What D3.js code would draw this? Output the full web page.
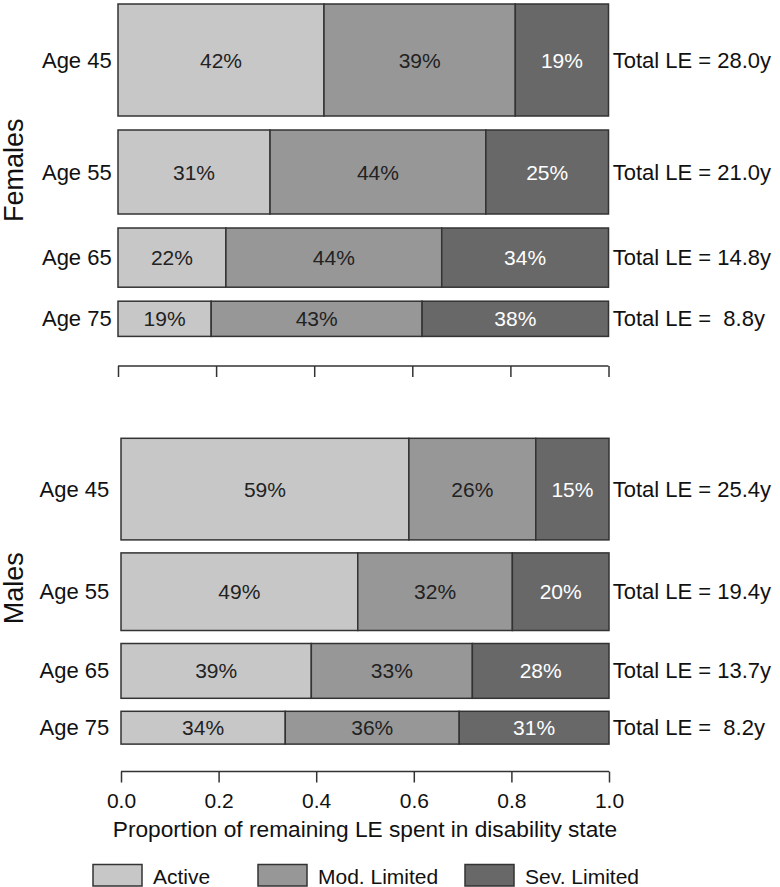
<!DOCTYPE html>
<html><head><meta charset="utf-8">
<script src="https://cdn.jsdelivr.net/npm/d3@7"></script>
<style>
html,body{margin:0;padding:0;background:#fff;}
svg text{font-family:"Liberation Sans",Arial,Helvetica,sans-serif;white-space:pre;}
</style></head>
<body>
<svg id="chart" width="780" height="887"></svg>
<script>
const ages = ["Age 45","Age 55","Age 65","Age 75"];
const states = ["Active","Mod. Limited","Sev. Limited"];
const femaleActive = [42,31,22,19];
const femaleMod    = [39,44,44,43];
const femaleSev    = [19,25,34,38];
const femaleTotal  = [28.0,21.0,14.8,8.8];
const maleActive = [59,49,39,34];
const maleMod    = [26,32,33,36];
const maleSev    = [15,20,28,31];
const maleTotal  = [25.4,19.4,13.7,8.2];
const tickValues = [0,0.2,0.4,0.6,0.8,1.0];
const colors = ["#c7c7c7","#979797","#686868"];
const textColors = ["#222","#222","#fff"];

const svg = d3.select("#chart");

const panels = [
  {name:"Females", act:femaleActive, mod:femaleMod, sev:femaleSev, tot:femaleTotal,
   x0:118, x1:608.5, top:4, gap:14, labelRight:111.7, axisY:366, tickLabels:false, labelShift:0},
  {name:"Males", act:maleActive, mod:maleMod, sev:maleSev, tot:maleTotal,
   x0:121, x1:609, top:438.3, gap:13, labelRight:109.3, axisY:771.5, tickLabels:true, labelShift:-3}
];

panels.forEach(p => {
  const rows = ages.map((a,i) => {
    const s = p.act[i]+p.mod[i]+p.sev[i];
    return {age:a, total:p.tot[i], Active:p.act[i]/s, "Mod. Limited":p.mod[i]/s, "Sev. Limited":p.sev[i]/s,
            raw:[p.act[i],p.mod[i],p.sev[i]]};
  });
  const x = d3.scaleLinear().domain([0,1]).range([p.x0,p.x1]);
  const h = d3.scaleLinear().domain([0,1]).range([0,4.0]); // px per year
  let cum = p.top;
  rows.forEach((r,i) => { r.y = cum; r.h = h(r.total); cum += r.h + p.gap; });
  const bottom = rows[rows.length-1].y + rows[rows.length-1].h;

  const stack = d3.stack().keys(states)(rows);
  const g = svg.append("g");
  stack.forEach((layer,k) => {
    g.selectAll(null).data(layer).enter().append("rect")
      .attr("x", d => x(d[0])).attr("width", d => x(d[1]) - x(d[0]))
      .attr("y", d => d.data.y).attr("height", d => d.data.h)
      .attr("fill", colors[k]).attr("stroke","#333").attr("stroke-width",1.5);
    g.selectAll(null).data(layer).enter().append("text")
      .attr("x", d => (x(d[0]) + x(d[1]))/2)
      .attr("y", d => d.data.y + d.data.h/2)
      .attr("text-anchor","middle").attr("dominant-baseline","central")
      .attr("font-size",21).attr("fill",textColors[k])
      .text(d => d.data.raw[k] + "%");
  });
  // age labels
  g.selectAll(null).data(rows).enter().append("text")
    .attr("x", p.labelRight).attr("y", d => d.y + d.h/2)
    .attr("text-anchor","end").attr("dominant-baseline","central")
    .attr("font-size",22).attr("fill","#111").text(d => d.age);
  // totals
  const fmt = d3.format("4.1f");
  g.selectAll(null).data(rows).enter().append("text")
    .attr("x", 612.7).attr("y", d => d.y + d.h/2)
    .attr("dominant-baseline","central")
    .attr("font-size",22).attr("fill","#111")
    .text(d => "Total LE = " + fmt(d.total) + "y");
  // panel label
  svg.append("text")
    .attr("transform", `translate(23,${(p.top+bottom)/2 + p.labelShift}) rotate(-90)`)
    .attr("text-anchor","middle").attr("font-size",27).attr("fill","#111")
    .text(p.name);
  // axis
  const axis = d3.axisBottom(x).tickValues(tickValues).tickSize(11).tickPadding(11)
    .tickFormat(p.tickLabels ? d3.format(".1f") : () => "");
  const ag = svg.append("g").attr("transform",`translate(0,${p.axisY})`).call(axis);
  ag.select(".domain").attr("stroke","#333").attr("stroke-width",1.5).attr("d", `M${p.x0},0H${p.x1}`);
  ag.selectAll(".tick line").attr("stroke","#333").attr("stroke-width",1.5);
  ag.selectAll(".tick text").attr("font-size",21).attr("fill","#111")
    .attr("font-family",'"Liberation Sans",Arial,sans-serif');
  if (p.tickLabels) {
    svg.append("text").attr("x",(p.x0+p.x1)/2).attr("y",836.7)
      .attr("text-anchor","middle").attr("font-size",22.7).attr("fill","#111")
      .text("Proportion of remaining LE spent in disability state");
  }
});

// legend
const legendX = [93, 258, 465];
const lg = svg.append("g");
states.forEach((s,k) => {
  lg.append("rect").attr("x",legendX[k]).attr("y",864.5).attr("width",49).attr("height",21.5)
    .attr("fill",colors[k]).attr("stroke","#333").attr("stroke-width",1.5);
  lg.append("text").attr("x",legendX[k]+60).attr("y",876).attr("dominant-baseline","central")
    .attr("font-size",21).attr("fill","#111").text(s);
});
</script>
</body></html>
